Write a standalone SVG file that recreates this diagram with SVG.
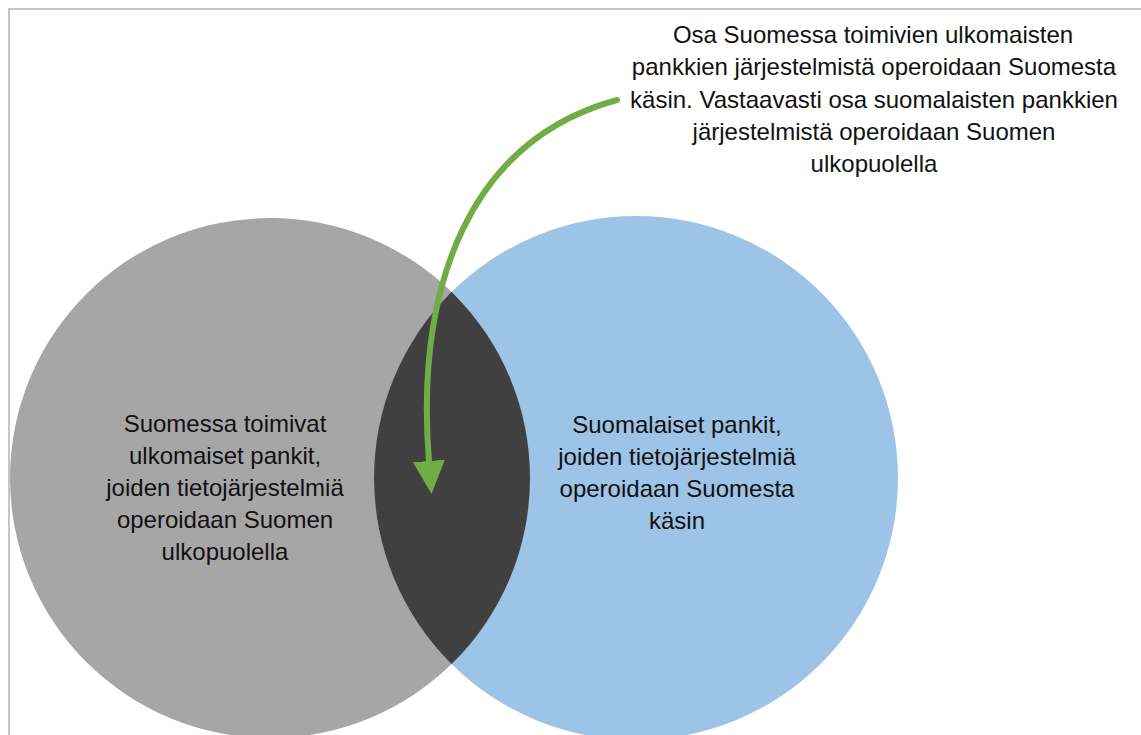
<svg xmlns="http://www.w3.org/2000/svg" width="1141" height="735" viewBox="0 0 1141 735">
<style>
  .lbl { font-family: "Liberation Sans", Arial, sans-serif; font-size: 24px; fill: #111; text-anchor: middle; }
  .conn { fill: none; stroke: #70ad47; stroke-width: 6; stroke-linecap: round; }
</style>
<defs>
  <marker id="arrow" markerUnits="userSpaceOnUse" markerWidth="34" markerHeight="34" refX="1" refY="16" orient="auto" viewBox="0 0 34 34">
    <path d="M0,0 L33,16 L0,32 Z" fill="#70ad47"/>
  </marker>
  <clipPath id="clipGray"><circle cx="270" cy="478" r="260"/></clipPath>
</defs>
<rect x="0" y="0" width="1141" height="735" fill="#ffffff"/>
<path d="M9,740 L9,9 L1141,9" fill="none" stroke="#c6c6c6" stroke-width="2"/>
<g id="node-foreign">
  <circle cx="270" cy="478" r="260" fill="#a6a6a6"/>
</g>
<g id="node-finnish">
  <circle cx="636" cy="478" r="262" fill="#9dc3e6"/>
</g>
<g id="node-overlap">
  <circle cx="636" cy="478" r="262" fill="#404040" clip-path="url(#clipGray)"/>
</g>
<g id="label-foreign">
  <text class="lbl" x="225" y="432">Suomessa toimivat</text>
  <text class="lbl" x="225" y="464">ulkomaiset pankit,</text>
  <text class="lbl" x="225" y="496">joiden tietojärjestelmiä</text>
  <text class="lbl" x="225" y="528">operoidaan Suomen</text>
  <text class="lbl" x="225" y="560">ulkopuolella</text>
</g>
<g id="label-finnish">
  <text class="lbl" x="677" y="433">Suomalaiset pankit,</text>
  <text class="lbl" x="677" y="465">joiden tietojärjestelmiä</text>
  <text class="lbl" x="677" y="497">operoidaan Suomesta</text>
  <text class="lbl" x="677" y="529">käsin</text>
</g>
<g id="note">
  <text class="lbl" x="873" y="43">Osa Suomessa toimivien ulkomaisten</text>
  <text class="lbl" x="874" y="75">pankkien järjestelmistä operoidaan Suomesta</text>
  <text class="lbl" x="874" y="108">käsin. Vastaavasti osa suomalaisten pankkien</text>
  <text class="lbl" x="874" y="140">järjestelmistä operoidaan Suomen</text>
  <text class="lbl" x="874" y="172">ulkopuolella</text>
</g>
<g id="connectors">
  <path class="conn" d="M617,100 C470,140 415,285 429,462" marker-end="url(#arrow)"/>
</g>
</svg>
